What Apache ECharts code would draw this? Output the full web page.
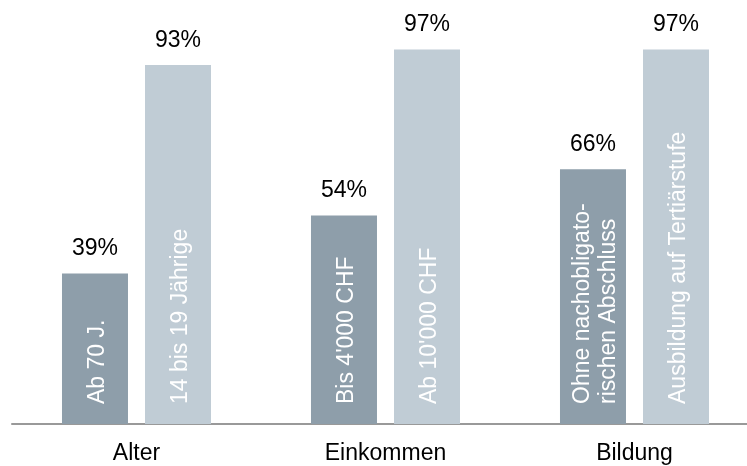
<!DOCTYPE html>
<html>
<head>
<meta charset="utf-8">
<script src="https://cdn.jsdelivr.net/npm/echarts@6/dist/echarts.min.js"></script>
<style>html,body{margin:0;padding:0;background:#fff}#c{width:747px;height:466px}</style>
</head>
<body>
<div id="c"></div>
<script>
var categories = ['Alter', 'Einkommen', 'Bildung'];
var lowValues = [39, 54, 66];
var highValues = [93, 97, 97];
var lowLabels = ['Ab 70 J.', "Bis 4'000 CHF", 'Ohne nachobligato-\nrischen Abschluss'];
var highLabels = ['14 bis 19 Jährige', "Ab 10'000 CHF", 'Ausbildung auf Tertiärstufe'];

var FONT = 'Liberation Sans, Arial, sans-serif';

function barSeries(values, labels, color, stack) {
  return {
    type: 'bar',
    stack: stack,
    barWidth: 66,
    barGap: '25.8%',
    data: values.map(function (v, i) { return { value: v, name: labels[i] }; }),
    itemStyle: { color: color },
    label: {
      show: true,
      position: 'insideBottom',
      rotate: 90,
      align: 'left',
      verticalAlign: 'middle',
      distance: 20,
      offset: [0, 3],
      color: '#fff',
      fontFamily: FONT,
      fontSize: 23,
      lineHeight: 26,
      formatter: function (p) { return p.name; }
    }
  };
}
function valueLabelSeries(values, stack) {
  return {
    type: 'bar',
    stack: stack,
    barWidth: 66,
    barGap: '25.8%',
    data: values.map(function () { return 0; }),
    itemStyle: { color: 'transparent' },
    label: {
      show: true,
      position: 'top',
      distance: 13,
      color: '#000',
      fontFamily: FONT,
      fontSize: 23,
      formatter: function (p) { return values[p.dataIndex] + '%'; }
    }
  };
}

var chart = echarts.init(document.getElementById('c'), null, { renderer: 'canvas' });
chart.setOption({
  animation: false,
  grid: { left: 12, top: 38, width: 747, height: 386, outerBoundsMode: 'none', containLabel: false },
  xAxis: {
    type: 'category',
    data: categories,
    axisLine: { lineStyle: { color: '#999', width: 2 } },
    axisTick: { show: false },
    axisLabel: { color: '#000', fontFamily: FONT, fontSize: 23, margin: 18 }
  },
  yAxis: { type: 'value', min: 0, max: 100, show: false, splitLine: { show: false } },
  series: [
    barSeries(lowValues, lowLabels, '#8e9eaa', 'low'),
    valueLabelSeries(lowValues, 'low'),
    barSeries(highValues, highLabels, '#c0ccd5', 'high'),
    valueLabelSeries(highValues, 'high')
  ]
});
</script>
</body>
</html>
